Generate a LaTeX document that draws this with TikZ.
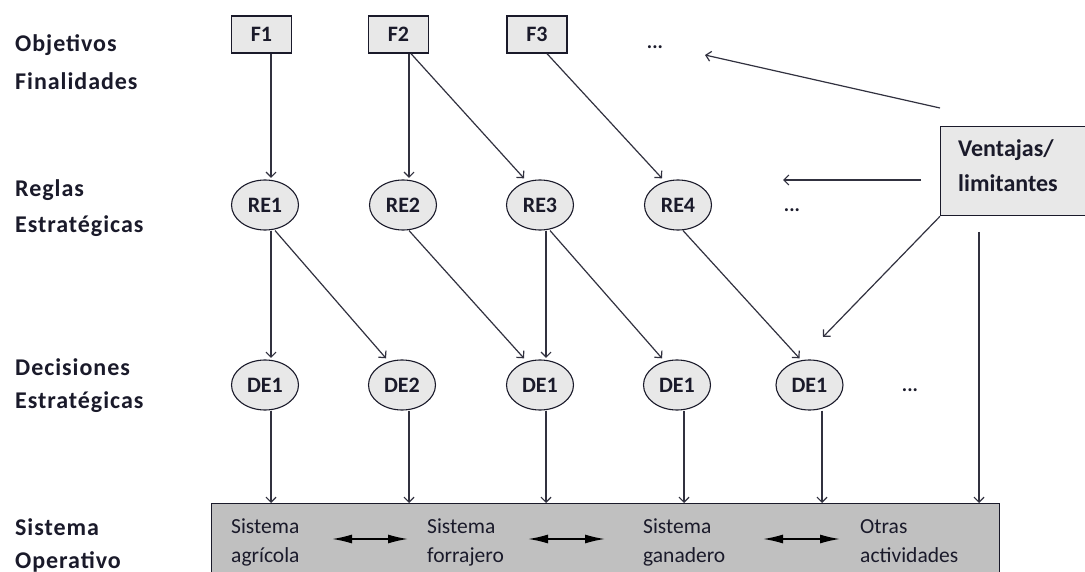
\documentclass[tikz,border=0pt]{standalone}
\usepackage{fontspec}
\setmainfont{Carlito}
\newfontfamily\lblfont[LetterSpace=4]{Carlito}
\usetikzlibrary{arrows.meta,shapes.geometric}
\definecolor{nodefill}{HTML}{E8E8E8}
\definecolor{sysfill}{HTML}{C0C0C0}
\definecolor{ink}{HTML}{1A1A2A}
\tikzset{
  lbl/.style={anchor=base west,inner sep=0pt,font=\lblfont\fontsize{24}{28}\selectfont\bfseries,text=ink},
  vlbl/.style={anchor=base west,inner sep=0pt,font=\fontsize{24}{28}\selectfont\bfseries,text=ink},
  fbox/.style={draw=ink,line width=1.3pt,fill=nodefill,minimum width=60pt,minimum height=37pt,inner sep=0pt,font=\fontsize{22}{24}\selectfont\bfseries,text=ink},
  ell/.style={ellipse,draw=ink,line width=1.1pt,fill=nodefill,minimum width=67pt,minimum height=50pt,inner sep=0pt,font=\fontsize{22}{24}\selectfont\bfseries,text=ink},
  systxt/.style={anchor=base west,inner sep=0pt,font=\fontsize{21.5}{24}\selectfont,text=ink},
  dots/.style={inner sep=0pt,font=\fontsize{20}{24}\selectfont\bfseries,text=ink},
  arr/.style={draw=ink!90,line width=1.2pt,-{Straight Barb[length=5pt,width=10pt,line width=1.2pt]},shorten >=1.5pt},
  darr/.style={draw=black,line width=1.6pt,{Latex[length=20pt,width=9pt]}-{Latex[length=20pt,width=9pt]}}
}
\begin{document}
\begin{tikzpicture}[x=1pt,y=-1pt]
\path[use as bounding box] (0,0) rectangle (1085,572);
\clip (0,0) rectangle (1085,572);
\fill[white] (0,0) rectangle (1085,572);

% left labels
\node[lbl] (l1a) at (15,52) {Objetivos};
\node[lbl] (l1b) at (15,90) {Finalidades};
\node[lbl] (l2a) at (15,197) {Reglas};
\node[lbl] (l2b) at (15,233) {Estratégicas};
\node[lbl] (l3a) at (15,375) {Decisiones};
\node[lbl] (l3b) at (15,408) {Estratégicas};
\node[lbl] (l4a) at (15,535) {Sistema};
\node[lbl] (l4b) at (15,568) {Operativo};

% F boxes
\node[fbox] (F1) at (261.5,34.5) {F1};
\node[fbox] (F2) at (398.5,34.5) {F2};
\node[fbox] (F3) at (537,34.5) {F3};
\node[dots] (dF) at (655,47) {...};

% RE
\node[ell] (RE1) at (265,205) {RE1};
\node[ell] (RE2) at (403,205) {RE2};
\node[ell] (RE3) at (540,205) {RE3};
\node[ell] (RE4) at (678,205) {RE4};
\node[dots] (dR) at (792,210) {...};

% DE
\node[ell] (DE1) at (265,385) {DE1};
\node[ell] (DE2) at (402,385) {DE2};
\node[ell] (DE3) at (540,385) {DE1};
\node[ell] (DE4) at (677,385) {DE1};
\node[ell] (DE5) at (809.5,385) {DE1};
\node[dots] (dD) at (910,390) {...};

% Ventajas box
\node[draw=ink,line width=1.3pt,fill=nodefill,anchor=north west,minimum width=150pt,minimum height=89pt,inner sep=0pt] (V) at (940,126) {};
\node[vlbl] (V1) at (958,157) {Ventajas/};
\node[vlbl] (V2) at (958,192) {limitantes};

% system box
\node[draw=ink,line width=1.3pt,fill=sysfill,anchor=north west,minimum width=788pt,minimum height=90pt,inner sep=0pt] (sys) at (211,503) {};
\node[systxt] (sA1) at (231,533) {Sistema};
\node[systxt] (sA2) at (231,562) {agrícola};
\node[systxt] (sB1) at (427,533) {Sistema};
\node[systxt] (sB2) at (427,562) {forrajero};
\node[systxt] (sC1) at (643,533) {Sistema};
\node[systxt] (sC2) at (643,562) {ganadero};
\node[systxt] (sD1) at (860,533) {Otras};
\node[systxt] (sD2) at (860,562) {actividades};

\coordinate (a1) at (332,539); \coordinate (b1) at (408,539);
\coordinate (a2) at (528,539); \coordinate (b2) at (605,539);
\coordinate (a3) at (763,539); \coordinate (b3) at (840,539);
\draw[darr] (a1) -- (b1);
\draw[darr] (a2) -- (b2);
\draw[darr] (a3) -- (b3);

% F -> RE
\draw[arr] ([xshift=9.5pt]F1.south) -- ([xshift=6pt]RE1.north);
\draw[arr] ([xshift=10.5pt]F2.south) -- ([xshift=6pt]RE2.north);
\draw[arr] ([xshift=12.5pt]F2.south) -- ([xshift=-15pt]RE3.north);
\draw[arr] ([xshift=10pt]F3.south) -- ([xshift=-15pt]RE4.north);

% RE -> DE
\draw[arr] ([xshift=6pt]RE1.south) -- ([xshift=6pt]DE1.north);
\draw[arr] ([xshift=10pt]RE1.south) -- ([xshift=-15pt]DE2.north);
\draw[arr] ([xshift=6pt]RE2.south) -- ([xshift=-15pt]DE3.north);
\draw[arr] ([xshift=6pt]RE3.south) -- ([xshift=6pt]DE3.north);
\draw[arr] ([xshift=10pt]RE3.south) -- ([xshift=-14pt]DE4.north);
\draw[arr] ([xshift=5pt]RE4.south) -- ([xshift=-9pt]DE5.north);

% DE -> system
\draw[arr,shorten >=0pt] ([xshift=6pt]DE1.south) -- ([xshift=6pt]DE1.south |- sys.north);
\draw[arr,shorten >=0pt] ([xshift=7pt]DE2.south) -- ([xshift=7pt]DE2.south |- sys.north);
\draw[arr,shorten >=0pt] ([xshift=6pt]DE3.south) -- ([xshift=6pt]DE3.south |- sys.north);
\draw[arr,shorten >=0pt] ([xshift=7pt]DE4.south) -- ([xshift=7pt]DE4.south |- sys.north);
\draw[arr,shorten >=0pt] ([xshift=12.5pt]DE5.south) -- ([xshift=12.5pt]DE5.south |- sys.north);

% Ventajas connectors
\coordinate (vs1) at (940,108); \coordinate (ve1) at (705,55);
\coordinate (vs2) at (921,180); \coordinate (ve2) at (783,180);
\coordinate (ve3) at (823,337);
\coordinate (vs4) at (979,232);
\draw[arr,shorten >=0pt] (vs1) -- (ve1);
\draw[arr,shorten >=0pt] (vs2) -- (ve2);
\draw[arr,shorten >=0pt] (V.south west) -- (ve3);
\draw[arr,shorten >=0pt] (vs4) -- (vs4 |- sys.north);
\end{tikzpicture}
\end{document}
